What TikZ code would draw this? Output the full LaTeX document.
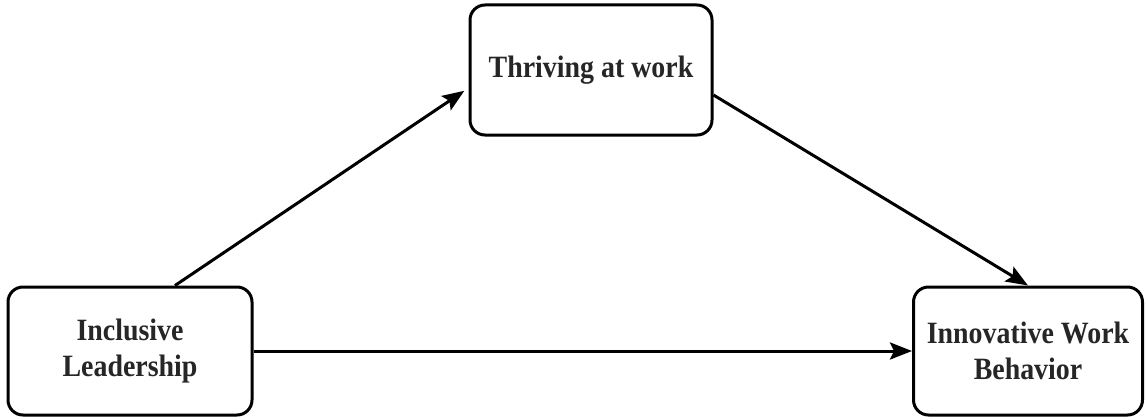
\documentclass[tikz,border=0pt]{standalone}
\usepackage{fontspec}
\newfontfamily\labfont[FakeStretch=0.9]{Liberation Serif}
\usetikzlibrary{arrows.meta}
\begin{document}
\begin{tikzpicture}[x=1pt,y=-1pt,
  box/.style={draw=black,line width=3pt,rounded corners=15pt,fill=white,
    align=center,font=\labfont\bfseries\fontsize{31}{36}\selectfont,text=black!85,inner sep=0pt},
  conn/.style={line width=3pt,-{Stealth[length=22pt,width=17pt,inset=4pt]}}]
\useasboundingbox (0,0) rectangle (1145,420);
\node[box,minimum width=242pt,minimum height=130pt] (thr) at (591,70) {Thriving at work};
\node[box,minimum width=244pt,minimum height=128pt] (incl) at (130,351) {Inclusive\\Leadership};
\node[box,minimum width=229pt,minimum height=128pt] (inn) at (1028,351) {Innovative Work\\Behavior};
\draw[conn,shorten >=5pt] ([xshift=45pt]incl.north) -- ([yshift=-18pt]thr.west);
\draw[conn] ([yshift=-25pt]thr.east) -- (inn.north);
\draw[conn] (incl.east) -- (inn.west);
\end{tikzpicture}
\end{document}
